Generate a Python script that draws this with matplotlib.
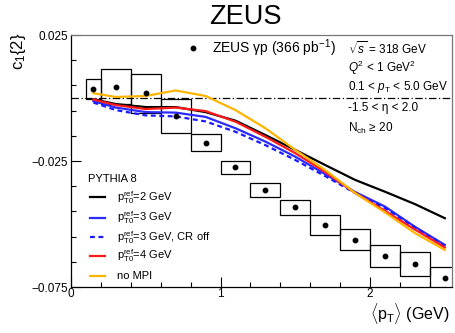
import matplotlib
matplotlib.use("Agg")
import matplotlib.pyplot as plt
from matplotlib.ticker import FixedLocator
import numpy as np

plt.rcParams['font.family'] = ['Liberation Sans', 'DejaVu Sans']
plt.rcParams['mathtext.fontset'] = 'custom'
plt.rcParams['mathtext.rm'] = 'Liberation Sans'
plt.rcParams['mathtext.it'] = 'Liberation Sans:italic'
plt.rcParams['mathtext.bf'] = 'Liberation Sans:bold'

# ---- data ----
pt_centers = [0.15, 0.3, 0.5, 0.7, 0.9, 1.1, 1.3, 1.5, 1.7, 1.9, 2.1, 2.3, 2.5]
pt_halfwidth = [0.05, 0.1, 0.1, 0.1, 0.1, 0.1, 0.1, 0.1, 0.1, 0.1, 0.1, 0.1, 0.1]
zeus_c1 = [0.0037, 0.0045, 0.0019, -0.0070, -0.0177, -0.0275, -0.0365, -0.0434,
           -0.0504, -0.0563, -0.0626, -0.0659, -0.0713]
zeus_sys = [0.0039, 0.0069, 0.0077, 0.0068, 0.0035, 0.0026, 0.0026, 0.0030,
            0.0039, 0.0042, 0.0044, 0.0046, 0.0044]

pythia_pt0_2 = [-0.0005, -0.0024, -0.0036, -0.0036, -0.0056, -0.0090, -0.0147,
                -0.0206, -0.0266, -0.0325, -0.0372, -0.0421, -0.0477]
pythia_pt0_3 = [-0.0012, -0.0038, -0.0056, -0.0058, -0.0075, -0.0120, -0.0173,
                -0.0233, -0.0302, -0.0373, -0.0431, -0.0511, -0.0583]
pythia_pt0_3_croff = [-0.0018, -0.0048, -0.0069, -0.0073, -0.0093, -0.0134, -0.0187,
                      -0.0246, -0.0310, -0.0377, -0.0437, -0.0514, -0.0587]
pythia_pt0_4 = [-0.0006, -0.0028, -0.0044, -0.0038, -0.0052, -0.0094, -0.0154,
                -0.0219, -0.0294, -0.0377, -0.0448, -0.0522, -0.0593]
pythia_nompi = [0.0019, 0.0004, 0.0008, 0.0030, 0.0008, -0.0048, -0.0120,
                -0.0206, -0.0286, -0.0377, -0.0454, -0.0536, -0.0603]

model_series = [
    (pythia_pt0_2, 'black', '-', r'p$_{\rm T0}^{\rm ref}$=2 GeV'),
    (pythia_pt0_3, '#2b2bff', '-', r'p$_{\rm T0}^{\rm ref}$=3 GeV'),
    (pythia_pt0_3_croff, '#1a1aff', (0, (2.2, 1.6)), r'p$_{\rm T0}^{\rm ref}$=3 GeV, CR off'),
    (pythia_pt0_4, '#ff1a1a', '-', r'p$_{\rm T0}^{\rm ref}$=4 GeV'),
    (pythia_nompi, '#ffb400', '-', 'no MPI'),
]

fig = plt.figure(figsize=(4.56, 3.33), dpi=100)
ax = fig.add_axes([71/456, 1-287/333, 381/456, 252/333])

# reference line
ax.axhline(0, color='black', lw=0.9, ls=(0, (6, 2, 1, 2)), zorder=1)

# systematic boxes
x = np.array(pt_centers)
hw = np.array(pt_halfwidth)
y = np.array(zeus_c1)
s = np.array(zeus_sys)
ax.bar(x, 2*s, width=2*hw, bottom=y - s, facecolor='none', edgecolor='black',
       linewidth=0.9, zorder=2)
ax.plot(x, y, 'o', color='black', ms=3.2, zorder=5)

for vals, col, ls, lab in model_series:
    ax.plot(x, vals, color=col, ls=ls, lw=1.6, zorder=3)

ax.set_xlim(0, 2.548)
ax.set_ylim(-0.075, 0.025)

ax.set_xticks([0, 1, 2])
ax.set_xticklabels(['0', '1', '2'])
ax.xaxis.set_minor_locator(FixedLocator([0.2, 0.4, 0.6, 0.8, 1.2, 1.4, 1.6, 1.8, 2.2, 2.4]))
ax.set_yticks([0.025, -0.025, -0.075])
ax.set_yticklabels(['0.025', '\u22120.025', '\u22120.075'])
ax.yaxis.set_minor_locator(FixedLocator([0.015, 0.005, -0.005, -0.015, -0.035,
                                         -0.045, -0.055, -0.065]))
ax.tick_params(which='both', direction='in', top=False, right=False, labelsize=8.5)
ax.tick_params(which='major', length=7, width=0.8)
ax.tick_params(which='minor', length=3.5, width=0.8)
ax.tick_params(axis='x', pad=1)
ax.tick_params(axis='y', pad=2)
for sp in ax.spines.values():
    sp.set_linewidth(0.9)
ax.spines['top'].set_color('#777777')
ax.spines['right'].set_color('#777777')

# title and axis labels
fig.text(245/456, 1-17.5/333, 'ZEUS', ha='center', va='center', fontsize=19.5)
fig.text(19/456, 1-33/333, r'c$_{1}${2}', rotation=90, ha='center', va='top', fontsize=12)
fig.text(450/456, 1-313/333, r'$\langle$p$_{\rm T}\rangle$ (GeV)', ha='right', va='center',
         fontsize=11.5)

# data legend
ax.plot([0.320], [0.948], 'o', color='black', ms=3.2, transform=ax.transAxes, clip_on=False)
ax.text(0.370, 0.948, r'ZEUS γp (366 pb$^{-1}$)', transform=ax.transAxes,
        va='center', ha='left', fontsize=10)

# kinematic info
info = [r'$\sqrt{s}$ = 318 GeV', r'$Q^2$ < 1 GeV$^2$', r'0.1 < $p_{\rm T}$ < 5.0 GeV',
        '-1.5 < η < 2.0', r'N$_{\rm ch}$ ≥ 20']
info_y = [0.948, 0.869, 0.794, 0.710, 0.631]
for t, yy in zip(info, info_y):
    ax.text(0.727, yy, t, transform=ax.transAxes, va='center', ha='left', fontsize=8.5)

# model legend
ax.text(0.0446, 0.4286, 'PYTHIA 8', transform=ax.transAxes, va='center', ha='left', fontsize=8)
leg_y = [0.356, 0.275, 0.197, 0.124, 0.045]
for (vals, col, ls, lab), yy in zip(model_series, leg_y):
    ax.plot([0.050, 0.089], [yy, yy], color=col, ls=ls, lw=1.6, transform=ax.transAxes)
    ax.text(0.121, yy, lab, transform=ax.transAxes, va='center', ha='left', fontsize=8)

fig.savefig('out.png', dpi=100)
